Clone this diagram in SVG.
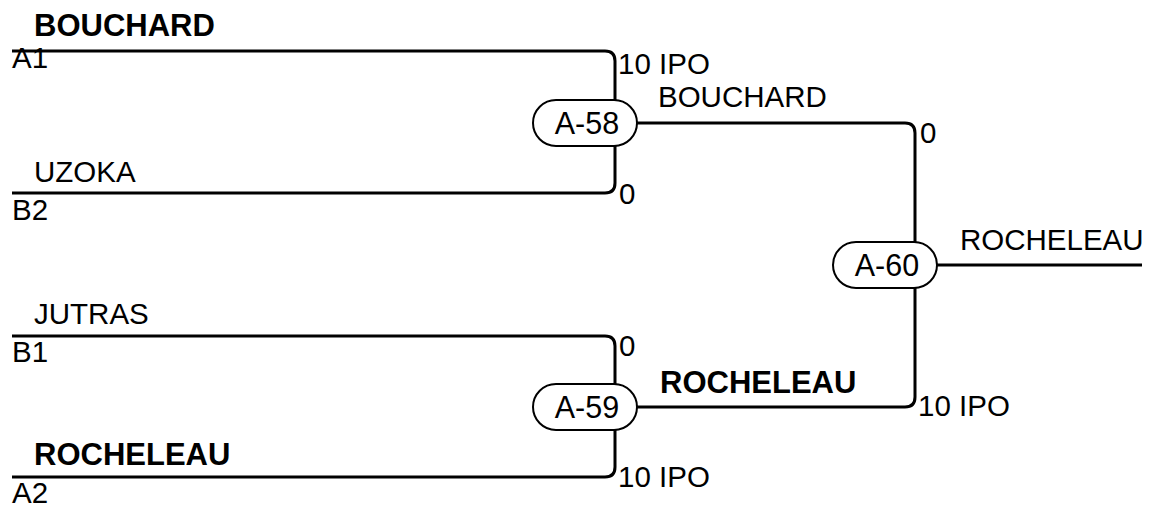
<svg xmlns="http://www.w3.org/2000/svg" width="1156" height="508" viewBox="0 0 1156 508">
<style>
text{font-family:"Liberation Sans",Arial,sans-serif;font-size:29.5px;fill:#000}
.b{font-weight:bold;font-size:31px}
.c{text-anchor:middle;font-size:30.5px}
.ln{fill:none;stroke:#000;stroke-width:3}
.pill{fill:#fff;stroke:#000;stroke-width:2}
</style>
<rect width="1156" height="508" fill="#fff"/>
<g id="connectors">
<path class="ln" d="M12,51 H605 Q615,51 615,61 V100"/>
<path class="ln" d="M12,193 H605 Q615,193 615,183 V146"/>
<path class="ln" d="M12,336 H605 Q615,336 615,346 V384"/>
<path class="ln" d="M12,477 H605 Q615,477 615,467 V430"/>
<path class="ln" d="M637,123 H905 Q915,123 915,133 V242"/>
<path class="ln" d="M637,407 H905 Q915,407 915,397 V288"/>
<path class="ln" d="M937,265 H1142"/>
</g>
<g id="labels">
<text class="b" x="34" y="36">BOUCHARD</text>
<text x="12" y="68">A1</text>
<text x="34" y="182">UZOKA</text>
<text x="12" y="220">B2</text>
<text x="34" y="324">JUTRAS</text>
<text x="12" y="362">B1</text>
<text class="b" x="34" y="465">ROCHELEAU</text>
<text x="12" y="503">A2</text>
<text x="618" y="74">10 IPO</text>
<text x="619" y="204">0</text>
<text x="658" y="107">BOUCHARD</text>
<text x="619" y="356">0</text>
<text x="618" y="487">10 IPO</text>
<text class="b" x="660" y="393">ROCHELEAU</text>
<text x="920" y="143">0</text>
<text x="918" y="416">10 IPO</text>
<text x="960" y="250">ROCHELEAU</text>
</g>
<g id="A-58"><rect class="pill" x="533" y="100" width="104" height="46" rx="23"/><text class="c" x="587" y="134">A-58</text></g>
<g id="A-59"><rect class="pill" x="533" y="384" width="104" height="46" rx="23"/><text class="c" x="587" y="418">A-59</text></g>
<g id="A-60"><rect class="pill" x="833" y="242" width="104" height="46" rx="23"/><text class="c" x="887" y="276">A-60</text></g>
</svg>
